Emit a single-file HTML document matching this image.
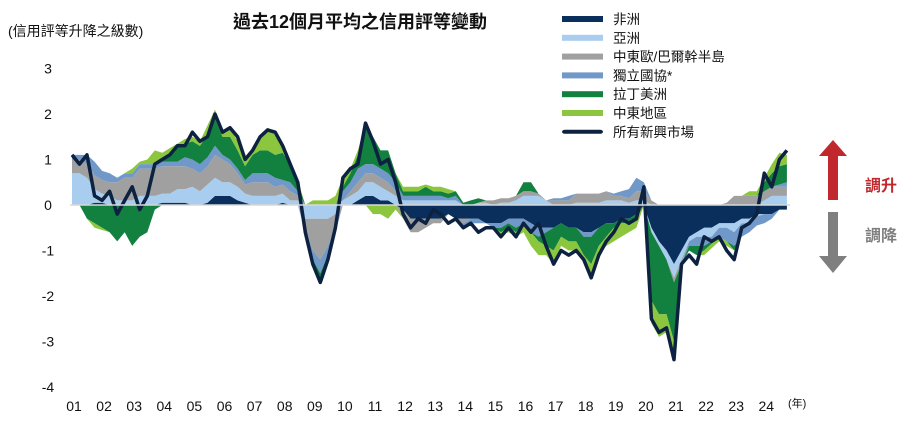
<!DOCTYPE html>
<html><head><meta charset="utf-8"><style>
body{margin:0;background:#fff;width:924px;height:434px;overflow:hidden;font-family:"Liberation Sans","Noto Sans CJK TC",sans-serif;}
svg{display:block}
text{font-family:"Liberation Sans","Noto Sans CJK TC",sans-serif;}
</style></head><body>
<svg id="chart" width="924" height="434">
<text x="360" y="28" font-size="18" font-weight="bold" text-anchor="middle" fill="#111">過去12個月平均之信用評等變動</text>
<text x="8" y="36" font-size="14" fill="#111">(信用評等升降之級數)</text>
<g id="areas"></g>
<g id="axis"></g>
<g id="legend"></g>
<g>
<polygon points="833,140 847,156 838,156 838,200 828,200 828,156 819,156" fill="#c0282e"/>
<text x="865" y="191" font-size="16" font-weight="bold" fill="#c0282e">調升</text>
</g>
<g>
<polygon points="828,212 838,212 838,256 847,256 833,273 819,256 828,256" fill="#7f7f7f"/>
<text x="865" y="241" font-size="16" font-weight="bold" fill="#7f7f7f">調降</text>
</g>
</svg>
<script>
const yearLabels=["01","02","03","04","05","06","07","08","09","10","11","12","13","14","15","16","17","18","19","20","21","22","23","24"];
const yTicks=[3,2,1,0,-1,-2,-3,-4];
const seriesNames=["非洲","亞洲","中東歐/巴爾幹半島","獨立國協*","拉丁美洲","中東地區"];
const seriesColors=["#0a2f5c","#a9cdee","#a0a0a0","#7098c8","#12803f","#8cc63f"];
const africa=[0,0,0,0.05, 0.05,0,0,0, 0,0,0,0, 0.05,0.05,0.05,0.05, 0,0,0.05,0.2, 0.2,0.2,0.1,0.05, 0,0,0,0, 0.05,0,0,0, 0,0,0,0, 0,0,0.1,0.2, 0.2,0.1,0.1,0, -0.1,-0.3,-0.3,-0.3, -0.3,-0.3,-0.2,-0.3, -0.3,-0.3,-0.3,-0.4, -0.4,-0.4,-0.3,-0.3, -0.3,-0.4,-0.5,-0.5, -0.5,-0.4,-0.5,-0.5, -0.6,-0.6,-0.5,-0.4, -0.4,-0.3,-0.3,-0.2, 0,-0.5,-0.8,-1.0, -1.3,-1.0,-0.7,-0.6, -0.5,-0.5,-0.4,-0.4, -0.4,-0.3,-0.3,-0.2, -0.2,-0.2,-0.1,-0.1];
const asia=[0.7,0.7,0.6,0.3, 0.2,0.2,0.1,0.1, 0.1,0.2,0.2,0.2, 0.2,0.2,0.3,0.3, 0.4,0.3,0.4,0.4, 0.3,0.3,0.3,0.2, 0.2,0.2,0.2,0.2, 0.2,0.1,0.1,-0.3, -0.3,-0.3,-0.3,-0.2, 0.1,0.2,0.2,0.3, 0.3,0.3,0.2,0.2, 0.1,0.1,0.1,0.1, 0.1,0.1,0.1,0.1, 0,0,0.05,0.05, 0,0.05,0.05,0.1, 0.2,0.2,0.2,0.1, 0,0,0,0.05, 0.05,0.05,0.05,0.1, 0.1,0.1,0.05,0.1, 0.1,-0.1,-0.1,-0.2, -0.3,-0.2,-0.1,-0.1, -0.2,-0.2,-0.1,-0.1, -0.2,-0.1,-0.1,-0.05, 0.1,0.2,0.2,0.2];
const cee=[0.3,0.3,0.3,0.3, 0.3,0.3,0.4,0.5, 0.5,0.6,0.6,0.6, 0.6,0.6,0.5,0.5, 0.4,0.4,0.4,0.5, 0.5,0.4,0.3,0.2, 0.3,0.3,0.3,0.2, 0.2,0.2,0.1,-0.2, -0.7,-0.9,-0.6,-0.3, 0,0.1,0.2,0.2, 0.2,0.2,0.2,0.1, -0.2,-0.3,-0.3,-0.2, -0.1,-0.1,0,0, -0.1,0,0,0.05, 0.1,0.1,0.1,0.1, 0.1,0.1,0.05,0, 0.1,0.1,0.1,0.2, 0.2,0.2,0.2,0.2, 0.1,0.1,0.1,0.2, 0.2,0.1,0,0, -0.1,-0.1,0,0, 0,0,0,0.05, 0.2,0.2,0.2,0.2, 0.2,0.2,0.2,0.2];
const cis=[0.1,0.1,0.2,0.3, 0.2,0.2,0.1,0.1, 0.1,0.1,0.1,0.1, 0.1,0.1,0.1,0.2, 0.2,0.2,0.2,0.2, 0.1,0.1,0.1,0.1, 0.2,0.2,0.2,0.2, 0.1,0.2,0.1,-0.1, -0.2,-0.3,-0.2,-0.1, 0.2,0.2,0.3,0.2, 0.2,0.2,0.2,0.2, 0.1,0.1,0.1,0.1, 0.1,0.1,0.05,0.1, -0.1,-0.1,-0.1,0, -0.1,-0.1,-0.1,-0.2, -0.1,-0.2,-0.2,-0.1, 0.05,0.05,0.1,0, -0.1,-0.1,0,0, 0.05,0.1,0.2,0.3, 0.2,0,0,0, 0,0,-0.1,-0.2, -0.2,-0.1,-0.2,-0.3, -0.3,-0.3,-0.2,-0.2, -0.2,-0.1,0.05,0.1];
const latam=[0,0,-0.3,-0.4, -0.5,-0.6,-0.8,-0.6, -0.9,-0.7,-0.6,-0.1, 0.1,0.2,0.3,0.3, 0.4,0.4,0.5,0.6, 0.4,0.5,0.4,0.3, 0.4,0.5,0.5,0.5, 0.6,0.4,0.2,0, -0.1,-0.2,-0.1,0, 0.1,0.2,0.3,0.8, 0.6,0.4,0.5,0.2, 0.1,0.1,0.1,0.2, 0.1,0.1,0.1,0.1, 0.05,0.1,0.1,0, 0,-0.1,-0.1,-0.1, 0.2,0.2,-0.1,-0.3, -0.5,-0.3,-0.3,-0.3, -0.4,-0.6,-0.4,-0.3, -0.1,-0.1,-0.1,-0.1, 0,-1.5,-1.5,-1.2, -1.3,0,-0.1,-0.2, -0.1,-0.05,0,0, -0.1,0,0,0, 0.2,0.3,0.4,0.4];
const mideast=[0,0,0,-0.1, -0.05,0,0,0, 0.1,0.05,0.1,0.3, 0.1,0.1,0.1,0.1, 0.1,0.1,0.2,0.2, 0.1,0.2,0.2,0.1, 0.1,0.3,0.5,0.5, 0.2,0.1,0.05,0, 0.1,0.1,0.1,0.2, 0.2,0.1,0.1,0.1, -0.2,-0.2,-0.3,-0.1, 0.1,0.1,0.1,0.05, 0.1,0.1,0.1,0, 0,0,0,0, 0,-0.05,-0.1,-0.1, -0.2,-0.3,-0.3,-0.2, -0.3,-0.2,-0.2,-0.2, -0.1,-0.2,-0.2,-0.2, -0.3,-0.3,-0.2,-0.2, 0,-0.5,-0.5,-0.4, -0.4,0,0,0, -0.1,-0.1,-0.1,-0.1, 0,0,0.1,0.1, 0.1,0.2,0.3,0.2];
const allEM=[1.1,0.9,1.1,0.2, 0.1,0.3,-0.2,0.1, 0.4,-0.1,0.2,0.9, 1.0,1.1,1.3,1.3, 1.6,1.4,1.5,2.0, 1.6,1.7,1.5,1.0, 1.2,1.5,1.65,1.6, 1.3,0.9,0.5,-0.6, -1.3,-1.7,-1.2,-0.5, 0.6,0.8,0.9,1.8, 1.4,0.9,1.0,0.5, -0.2,-0.5,-0.3,-0.4, -0.1,-0.2,-0.4,-0.3, -0.5,-0.4,-0.6,-0.5, -0.5,-0.7,-0.5,-0.7, -0.4,-0.6,-0.4,-0.9, -1.3,-1.0,-1.1,-1.0, -1.2,-1.6,-1.1,-0.8, -0.6,-0.3,-0.4,-0.3, 0.4,-2.5,-2.8,-2.7, -3.4,-1.3,-1.1,-1.3, -0.7,-0.8,-0.7,-1.0, -1.2,-0.5,-0.4,-0.2, 0.7,0.4,1.0,1.2];
const series=[africa,asia,cee,cis,latam,mideast];
const slugs=["africa","asia","cee-balkans","cis","latin-america","middle-east"];
const NS="http://www.w3.org/2000/svg";
const X0=72, PXY=30.1, Y0=205, PXV=45.5;
function xs(i){return X0+(i/4)*PXY;}
function ys(v){return Y0-v*PXV;}
const areas=document.getElementById('areas');
const n=allEM.length;
const posBase=new Array(n).fill(0), negBase=new Array(n).fill(0);
series.forEach((s,k)=>{
  ["pos","neg"].forEach(sign=>{
    const base=sign==="pos"?posBase:negBase;
    const top=[],bot=[];
    for(let i=0;i<n;i++){
      const v=sign==="pos"?Math.max(s[i],0):Math.min(s[i],0);
      bot.push([xs(i),ys(base[i])]);
      base[i]+=v;
      top.push([xs(i),ys(base[i])]);
    }
    const pts=top.concat(bot.reverse()).map(p=>p[0].toFixed(1)+","+p[1].toFixed(1)).join(" ");
    const poly=document.createElementNS(NS,'polygon');
    poly.setAttribute('points',pts);
    poly.setAttribute('fill',seriesColors[k]);
    
    
    areas.appendChild(poly);
  });
});
const axis=document.getElementById('axis');
const zl=document.createElementNS(NS,'line');
zl.setAttribute('x1',70);zl.setAttribute('x2',790);zl.setAttribute('y1',Y0);zl.setAttribute('y2',Y0);
zl.setAttribute('stroke','#d8d8d8');zl.setAttribute('stroke-width','1.5');


axis.appendChild(zl);
const line=document.createElementNS(NS,'polyline');
line.setAttribute('points',allEM.map((v,i)=>xs(i).toFixed(1)+","+ys(v).toFixed(1)).join(" "));
line.setAttribute('fill','none');line.setAttribute('stroke','#0d2240');line.setAttribute('stroke-width','3.5');line.setAttribute('stroke-linejoin','round');


areas.appendChild(line);
yTicks.forEach(v=>{
  const t=document.createElementNS(NS,'text');
  t.setAttribute('x',48);t.setAttribute('y',ys(v)+5);t.setAttribute('font-size','14');t.setAttribute('text-anchor','middle');t.setAttribute('fill','#111');
  t.textContent=v;
  
  
  axis.appendChild(t);
});
yearLabels.forEach((l,i)=>{
  const t=document.createElementNS(NS,'text');
  t.setAttribute('x',X0+2+i*PXY);t.setAttribute('y',411);t.setAttribute('font-size','14');t.setAttribute('text-anchor','middle');t.setAttribute('fill','#111');
  t.textContent=l;
  
  
  axis.appendChild(t);
});
const yr=document.createElementNS(NS,'text');
yr.setAttribute('x',788);yr.setAttribute('y',407);yr.setAttribute('font-size','11');yr.setAttribute('fill','#111');
yr.textContent="(年)";


axis.appendChild(yr);
const legend=document.getElementById('legend');
const legNames=seriesNames.concat(["所有新興市場"]);
const legColors=seriesColors.concat(["#0d2240"]);
legNames.forEach((nm,i)=>{
  const cy=19+i*18.8;
  const r=document.createElementNS(NS,'rect');
  r.setAttribute('x',562);r.setAttribute('y',cy-3);r.setAttribute('width',41);r.setAttribute('height',6);r.setAttribute('fill',legColors[i]);
  if(i===6){r.setAttribute('rx',3);r.setAttribute('height',4);r.setAttribute('y',cy-2);}
  
  
  legend.appendChild(r);
  const t=document.createElementNS(NS,'text');
  t.setAttribute('x',613);t.setAttribute('y',cy+5);t.setAttribute('font-size','13.5');t.setAttribute('fill','#111');
  t.textContent=nm;
  
  
  legend.appendChild(t);
});
</script>
</body></html>
